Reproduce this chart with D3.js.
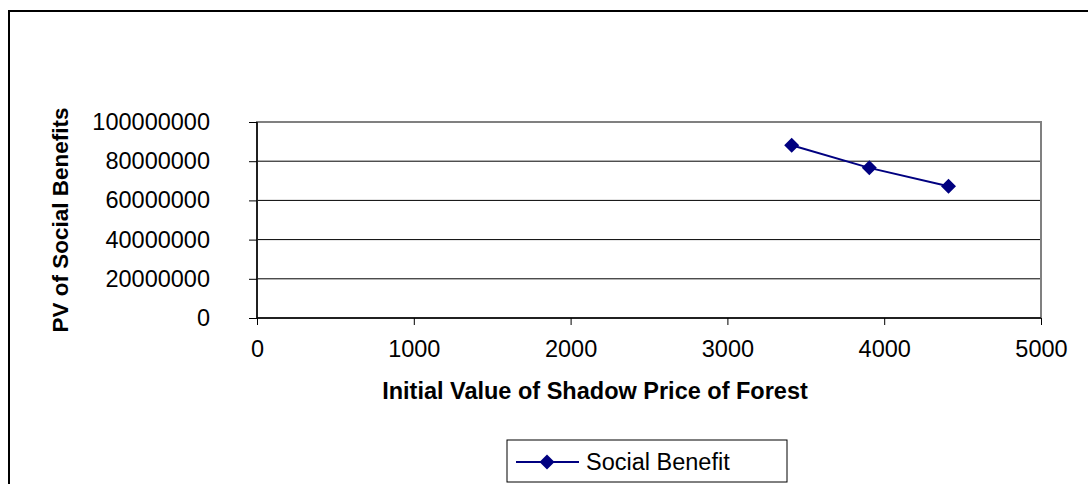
<!DOCTYPE html>
<html>
<head>
<meta charset="utf-8">
<script src="https://cdn.jsdelivr.net/npm/d3@7"></script>
<style>
  body { margin: 0; background: #fff; }
  svg { display: block; font-family: "Liberation Sans", Arial, sans-serif; }
</style>
</head>
<body>
<div id="chart"></div>
<script>
var shadowPrice = [3410, 3905, 4410]
var socialBenefit = [88100000, 76600000, 67200000]
var xTicks = [0, 1000, 2000, 3000, 4000, 5000]
var yTicks = [0, 20000000, 40000000, 60000000, 80000000, 100000000]
var seriesName = 'Social Benefit'

var data = shadowPrice.map(function(d, i){ return {x: d, y: socialBenefit[i]} })

var W = 1088, H = 484
var svg = d3.select('#chart').append('svg').attr('width', W).attr('height', H)

// outer chart frame (runs off the right / bottom edge)
svg.append('rect')
  .attr('x', 9).attr('y', 11).attr('width', W + 20).attr('height', H + 20)
  .attr('fill', '#fff').attr('stroke', '#000').attr('stroke-width', 2)

var m = {left: 257, right: 1041, top: 122, bottom: 318}
var x = d3.scaleLinear().domain([0, 5000]).range([m.left, m.right])
var y = d3.scaleLinear().domain([0, 100000000]).range([m.bottom, m.top])

// gridlines
svg.append('g').selectAll('line').data(yTicks.slice(1)).join('line')
  .attr('x1', m.left).attr('x2', m.right)
  .attr('y1', function(d){ return y(d) }).attr('y2', function(d){ return y(d) })
  .attr('stroke', '#000').attr('stroke-width', 1)

// plot area border (gray)
svg.append('rect')
  .attr('x', m.left).attr('y', m.top)
  .attr('width', m.right - m.left).attr('height', m.bottom - m.top)
  .attr('fill', 'none').attr('stroke', '#808080').attr('stroke-width', 2)

var xAxis = svg.append('g').attr('transform', 'translate(0,' + m.bottom + ')')
  .call(d3.axisBottom(x).tickValues(xTicks).tickFormat(d3.format('d')).tickSize(7).tickPadding(15))
var yAxis = svg.append('g').attr('transform', 'translate(' + m.left + ',0)')
  .call(d3.axisLeft(y).tickValues(yTicks).tickFormat(d3.format('d')).tickSize(8).tickPadding(39))

;[xAxis, yAxis].forEach(function(a){
  a.select('.domain').attr('stroke', '#000').attr('stroke-width', 1.5)
  a.selectAll('.tick line').attr('stroke', '#000').attr('stroke-width', 1)
  a.selectAll('.tick text').attr('fill', '#000').style('font-size', '23.5px')
    .style('font-family', '"Liberation Sans", Arial, sans-serif')
})
xAxis.select('.domain').attr('d', 'M' + m.left + ',0H' + m.right)
yAxis.select('.domain').attr('d', 'M0,' + m.top + 'V' + m.bottom)

// axis titles
svg.append('text')
  .attr('x', 595).attr('y', 399)
  .attr('text-anchor', 'middle')
  .style('font-size', '23.5px').style('font-weight', 'bold')
  .text('Initial Value of Shadow Price of Forest')

svg.append('text')
  .attr('transform', 'translate(68,220) rotate(-90)')
  .attr('text-anchor', 'middle')
  .style('font-size', '22.5px').style('font-weight', 'bold')
  .text('PV of Social Benefits')

// series
var navy = '#000080'
var line = d3.line().x(function(d){ return x(d.x) }).y(function(d){ return y(d.y) })
svg.append('path').attr('d', line(data))
  .attr('fill', 'none').attr('stroke', navy).attr('stroke-width', 2)

var diamond = 'M0,-7.5L7.5,0L0,7.5L-7.5,0Z'
svg.append('g').selectAll('path').data(data).join('path')
  .attr('transform', function(d){ return 'translate(' + x(d.x) + ',' + y(d.y) + ')' })
  .attr('d', diamond).attr('fill', navy)

// legend
var lg = svg.append('g')
lg.append('rect').attr('x', 507).attr('y', 440).attr('width', 280).attr('height', 42)
  .attr('fill', '#fff').attr('stroke', '#000').attr('stroke-width', 1)
lg.append('line').attr('x1', 516).attr('x2', 579).attr('y1', 462).attr('y2', 462)
  .attr('stroke', navy).attr('stroke-width', 2)
lg.append('path').attr('transform', 'translate(547,462)').attr('d', diamond).attr('fill', navy)
lg.append('text').attr('x', 586).attr('y', 470)
  .style('font-size', '23.5px').text(seriesName)
</script>
</body>
</html>
